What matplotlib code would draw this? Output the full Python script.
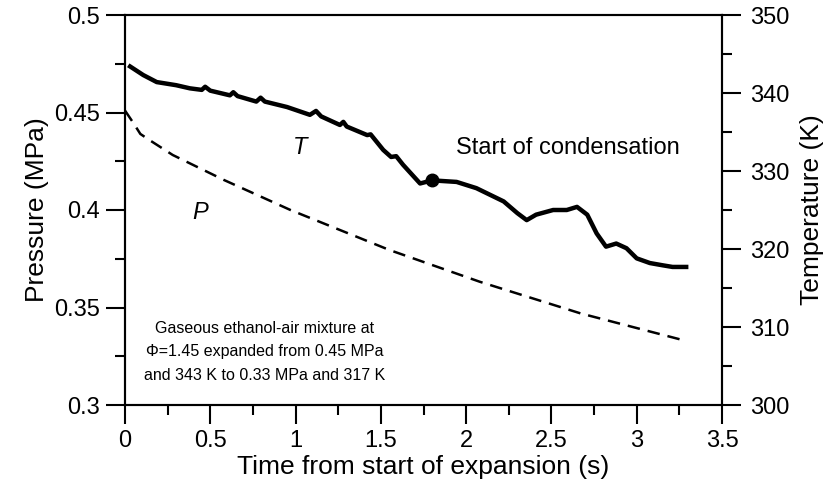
import matplotlib
matplotlib.use("Agg")
import matplotlib.pyplot as plt
from matplotlib.ticker import MultipleLocator

plt.rcParams['font.family'] = ['Liberation Sans', 'DejaVu Sans']

# Temperature trace (s, K)
t_time = [0.03, 0.107, 0.186, 0.30, 0.38, 0.45, 0.47, 0.50, 0.615, 0.635, 0.66,
          0.77, 0.795, 0.82, 0.95, 1.084, 1.12, 1.15, 1.26, 1.28, 1.30, 1.42,
          1.44, 1.514, 1.56, 1.59, 1.63, 1.73, 1.80, 1.944, 2.06, 2.22, 2.30,
          2.355, 2.41, 2.51, 2.59, 2.65, 2.71, 2.765, 2.82, 2.88, 2.94, 3.0,
          3.077, 3.155, 3.21, 3.29]
temp_K = [343.4, 342.3, 341.4, 341.0, 340.6, 340.4, 340.8, 340.3, 339.7, 340.1, 339.6,
          338.9, 339.4, 338.9, 338.2, 337.2, 337.7, 337.0, 335.9, 336.3, 335.7, 334.6,
          334.7, 332.7, 331.8, 331.9, 330.8, 328.4, 328.8, 328.6, 327.8, 326.1, 324.6,
          323.7, 324.4, 325.0, 325.0, 325.4, 324.4, 322.0, 320.3, 320.7, 320.1, 318.8,
          318.2, 317.9, 317.7, 317.7]

# Pressure trace (s, MPa)
p_time = [0.0, 0.05, 0.09, 0.15, 0.28, 0.58, 0.97, 1.55, 2.08, 2.67, 3.27]
pressure = [0.451, 0.4445, 0.439, 0.4355, 0.4282, 0.4154, 0.400, 0.3795, 0.3632, 0.347, 0.3333]

# Start of condensation point
cond_t = [1.80]
cond_T = [328.8]

# Tick labels
x_ticks = [0, 0.5, 1, 1.5, 2, 2.5, 3, 3.5]
x_labels = ['0', '0.5', '1', '1.5', '2', '2.5', '3', '3.5']
p_ticks = [0.3, 0.35, 0.4, 0.45, 0.5]
p_labels = ['0.3', '0.35', '0.4', '0.45', '0.5']
t_ticks = [300, 310, 320, 330, 340, 350]

fig = plt.figure(figsize=(8.3, 4.97), dpi=100)
ax = fig.add_axes([125/830, 1-405/497, (722-125)/830, (405-15)/497])
ax2 = ax.twinx()

ax.plot(p_time, pressure, color='black', lw=1.8, dashes=(5, 3.2))
ax2.plot(t_time, temp_K, color='black', lw=3.2)
ax2.plot(cond_t, cond_T, 'o', color='black', ms=9)

ax.set_xlim(0, 3.5)
ax.set_ylim(0.3, 0.5)
ax2.set_ylim(300, 350)

ax.set_xticks(x_ticks)
ax.set_xticklabels(x_labels)
ax.set_yticks(p_ticks)
ax.set_yticklabels(p_labels)
ax2.set_yticks(t_ticks)
ax.xaxis.set_minor_locator(MultipleLocator(0.25))
ax.yaxis.set_minor_locator(MultipleLocator(0.025))
ax2.yaxis.set_minor_locator(MultipleLocator(5))

for a in (ax, ax2):
    a.tick_params(which='major', direction='out', length=14, width=1.5, labelsize=17, pad=4)
    a.tick_params(which='minor', direction='out', length=7, width=1.5)
    for s in a.spines.values():
        s.set_linewidth(1.5)
ax2.tick_params(which='major', pad=6)

ax.set_xlabel('Time from start of expansion (s)', fontsize=19, labelpad=2)
ax.set_ylabel('Pressure (MPa)', fontsize=19, labelpad=4)
ax2.set_ylabel('Temperature (K)', fontsize=19, labelpad=8)

ax.text(1.026, 0.4323, 'T', fontsize=17, style='italic', ha='center', va='center')
ax.text(0.44, 0.3985, 'P', fontsize=17, style='italic', ha='center', va='center')
ax.text(2.597, 0.4318, 'Start of condensation', fontsize=17, ha='center', va='center')
ax.text(0.82, 0.3272, 'Gaseous ethanol-air mixture at\n\u03a6=1.45 expanded from 0.45 MPa\nand 343 K to 0.33 MPa and 317 K',
        fontsize=11.5, ha='center', va='center', multialignment='center', linespacing=1.7)

fig.savefig('out.png', dpi=100)
